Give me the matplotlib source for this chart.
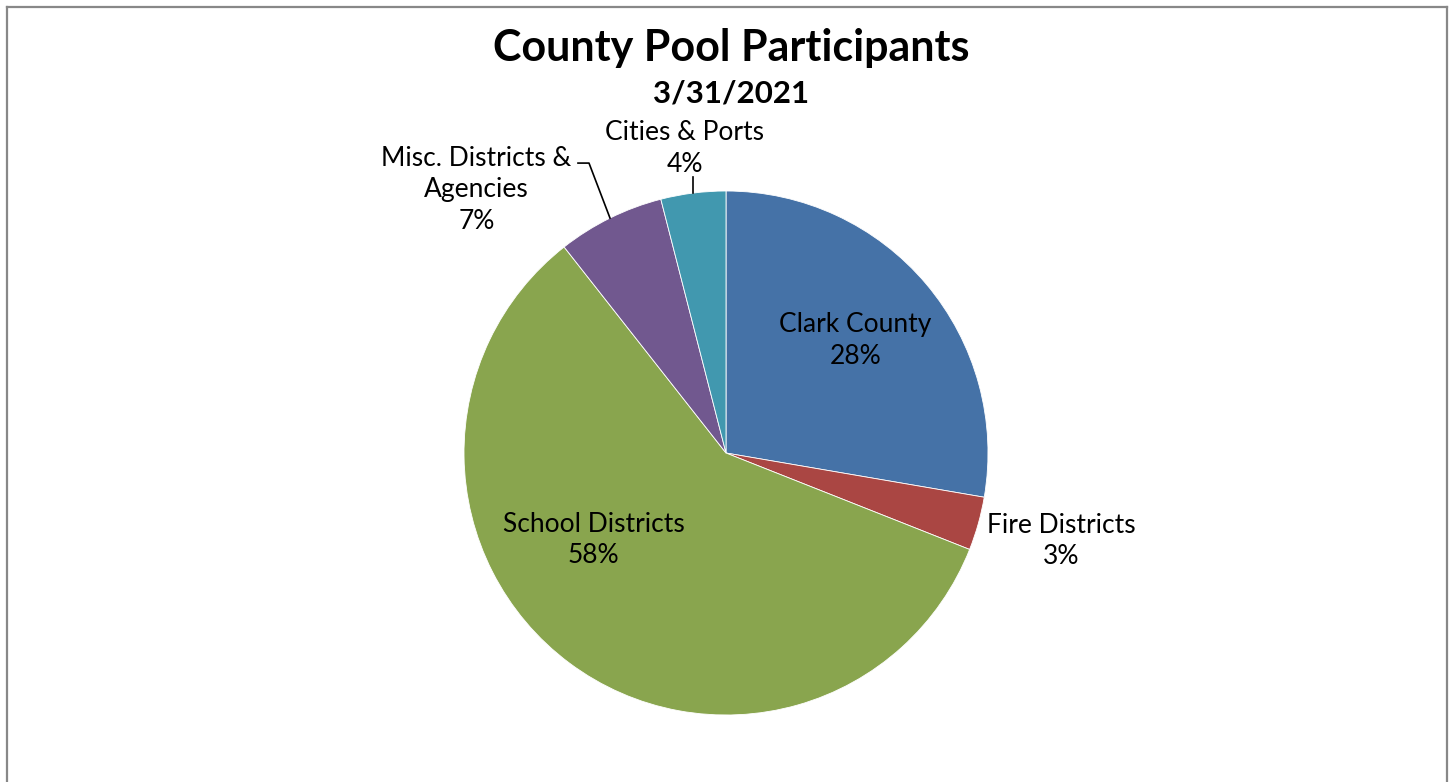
import numpy as np
import matplotlib.pyplot as plt
from matplotlib.lines import Line2D

plt.rcParams['font.family'] = ['Lato', 'DejaVu Sans']

# data (clockwise from 12 o'clock)
categories = ['Clark County', 'Fire Districts', 'School Districts',
              'Misc. Districts &\nAgencies', 'Cities & Ports']
shares = [27.7, 3.3, 58.4, 6.6, 4.0]
colors = ['#4572A7', '#AA4643', '#89A54E', '#71588F', '#4198AF']

# label placement: radius factor and angle tweak (deg) per slice
lab_r = [0.66, 1.32, 0.60, 1.39, 1.18]
lab_dang = [-1.3, -1.3, 20.5, -17.0, -0.5]
leader = [False, False, False, True, True]

W, H = 1453, 782
cx, cy, R = 726, 453, 262

fig = plt.figure(figsize=(W / 100, H / 100), dpi=100)
ax = fig.add_axes([0, 0, 1, 1])

wedges, _ = ax.pie(shares, colors=colors, startangle=90, counterclock=False,
                   radius=1.0, center=(0, 0), frame=True,
                   wedgeprops=dict(edgecolor='white', linewidth=0.6))
ax.set_xlim(-cx / R, (W - cx) / R)
ax.set_ylim((cy - H) / R, cy / R)
ax.set_aspect('auto')
ax.axis('off')

tot = sum(shares)
cum = np.cumsum([0] + shares[:-1])
for i, (cat, v) in enumerate(zip(categories, shares)):
    mid = (cum[i] + v / 2) / tot * 360  # clockwise from top
    a = np.deg2rad(mid + lab_dang[i])
    x, y = lab_r[i] * np.sin(a), lab_r[i] * np.cos(a) - 2 / R
    txt = cat + '\n' + '{:.0f}%'.format(v / tot * 100)
    ax.text(x, y, txt, ha='center', va='center', fontsize=19,
            linespacing=1.32, color='black')
    if leader[i]:
        am = np.deg2rad(mid)
        ex, ey = np.sin(am), np.cos(am)
        if i == 4:
            ax.plot([ex, ex], [ey, ey + 16 / R], color='black', lw=1.2)
        else:
            kx, ky = ex - 21 / R, ey + 55 / R
            ax.plot([ex, kx, kx - 11 / R], [ey, ky, ky], color='black', lw=1.2)

fig.text(731 / W, 1 - 48 / H, 'County Pool Participants', ha='center',
         va='center', fontsize=31, fontweight='bold')
fig.text(731 / W, 1 - 94 / H, '3/31/2021', ha='center', va='center',
         fontsize=22.5, fontweight='bold')

# chart border (bottom edge is outside the image)
bx0, bx1, by0 = 6.5 / W, 1446.5 / W, 1 - 6.5 / H
for xs, ys in [([bx0, bx1], [by0, by0]), ([bx0, bx0], [by0, -0.01]),
               ([bx1, bx1], [by0, -0.01])]:
    fig.add_artist(Line2D(xs, ys, color='#888888', lw=1.6))

plt.savefig('out.png', dpi=100)
